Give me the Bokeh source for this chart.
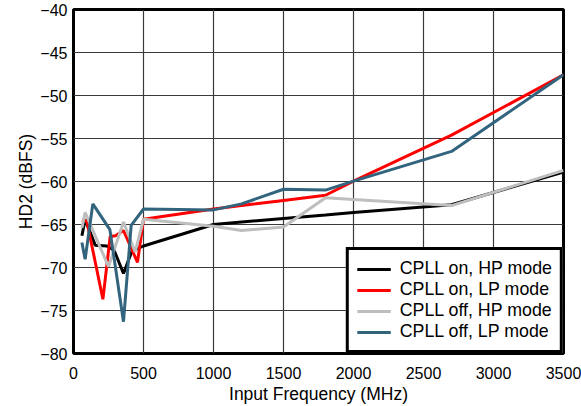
from bokeh.plotting import figure
from bokeh.models import FixedTicker, Legend, LegendItem
from bokeh.embed import file_html
from bokeh.resources import INLINE

# Data
freq_on_hp = [60, 83, 155, 238, 290, 357, 417, 500, 1000, 1200, 1500, 1800, 2000, 2700, 3500]
hd2_on_hp = [-66.3, -64.4, -67.4, -67.5, -68.0, -70.7, -68.1, -67.5, -65.0, -64.7, -64.3, -63.9, -63.6, -62.7, -58.9]

freq_on_lp = [60, 95, 210, 262, 300, 357, 457, 500, 1000, 1200, 1500, 1800, 2000, 2700, 3500]
hd2_on_lp = [-64.5, -64.6, -73.7, -66.4, -66.3, -65.7, -69.4, -64.4, -63.2, -62.8, -62.2, -61.6, -59.95, -54.6, -47.6]

freq_off_hp = [60, 83, 250, 357, 440, 500, 1000, 1200, 1500, 1800, 2000, 2700, 3500]
hd2_off_hp = [-65.4, -63.6, -69.9, -64.7, -68.2, -64.4, -65.2, -65.7, -65.3, -61.9, -62.1, -62.8, -58.7]

freq_off_lp = [60, 83, 138, 260, 357, 412, 500, 1000, 1200, 1500, 1800, 2000, 2700, 3500]
hd2_off_lp = [-67.1, -69.05, -62.6, -65.6, -76.3, -65.1, -63.2, -63.3, -62.6, -60.9, -61.0, -59.95, -56.5, -47.6]

series_labels = ["CPLL on, HP mode", "CPLL on, LP mode", "CPLL off, HP mode", "CPLL off, LP mode"]
series_colors = ["#000000", "#FF0000", "#BEBEBE", "#32647E"]

x_ticks = [0, 500, 1000, 1500, 2000, 2500, 3000, 3500]
y_ticks = [-80, -75, -70, -65, -60, -55, -50, -45, -40]

FONT = "Liberation Sans"

p = figure(width=581, height=406, x_range=(0, 3500), y_range=(-80, -40),
           output_backend="svg", toolbar_location=None,
           min_border_left=73, min_border_right=18, min_border_top=9, min_border_bottom=53)

p.background_fill_color = "white"
p.border_fill_color = "white"
p.outline_line_color = "black"
p.outline_line_width = 3

p.xaxis.ticker = FixedTicker(ticks=x_ticks)
p.yaxis.ticker = FixedTicker(ticks=y_ticks)
for ax in (p.xaxis, p.yaxis):
    ax.axis_line_color = None
    ax.major_tick_line_color = None
    ax.minor_tick_line_color = None
    ax.major_tick_out = 0
    ax.major_tick_in = 0
    ax.minor_tick_out = 0
    ax.minor_tick_in = 0
    ax.major_label_text_font = FONT
    ax.major_label_text_font_size = "16px"
    ax.major_label_text_color = "black"
    ax.axis_label_text_font = FONT
    ax.axis_label_text_font_size = "17.5px"
    ax.axis_label_text_font_style = "normal"
    ax.axis_label_text_color = "black"

p.xaxis.axis_label = "Input Frequency (MHz)"
p.yaxis.axis_label = "HD2 (dBFS)"
p.xaxis.major_label_standoff = 13
p.xaxis.axis_label_standoff = 2
p.yaxis.major_label_standoff = 6
p.yaxis.axis_label_standoff = 1

p.xgrid.ticker = FixedTicker(ticks=x_ticks)
p.ygrid.ticker = FixedTicker(ticks=y_ticks)
for g in (p.xgrid, p.ygrid):
    g.grid_line_color = "#3a3a3a"
    g.grid_line_width = 1.2

xs = [freq_on_hp, freq_on_lp, freq_off_hp, freq_off_lp]
ys = [hd2_on_hp, hd2_on_lp, hd2_off_hp, hd2_off_lp]
items = []
for x, y, lab, col in zip(xs, ys, series_labels, series_colors):
    r = p.line(x, y, line_color=col, line_width=3)
    items.append(LegendItem(label=lab, renderers=[r]))

legend = Legend(items=items, location="bottom_right", margin=0,
                border_line_color="black", border_line_width=3, border_line_alpha=1.0,
                background_fill_color="white", background_fill_alpha=1,
                label_text_font=FONT, label_text_font_size="17.8px",
                label_text_color="black",
                glyph_width=34, glyph_height=20, label_height=20,
                label_standoff=9, spacing=0, padding=8)
p.add_layout(legend)

open("out.html", "w").write(file_html(p, INLINE))
